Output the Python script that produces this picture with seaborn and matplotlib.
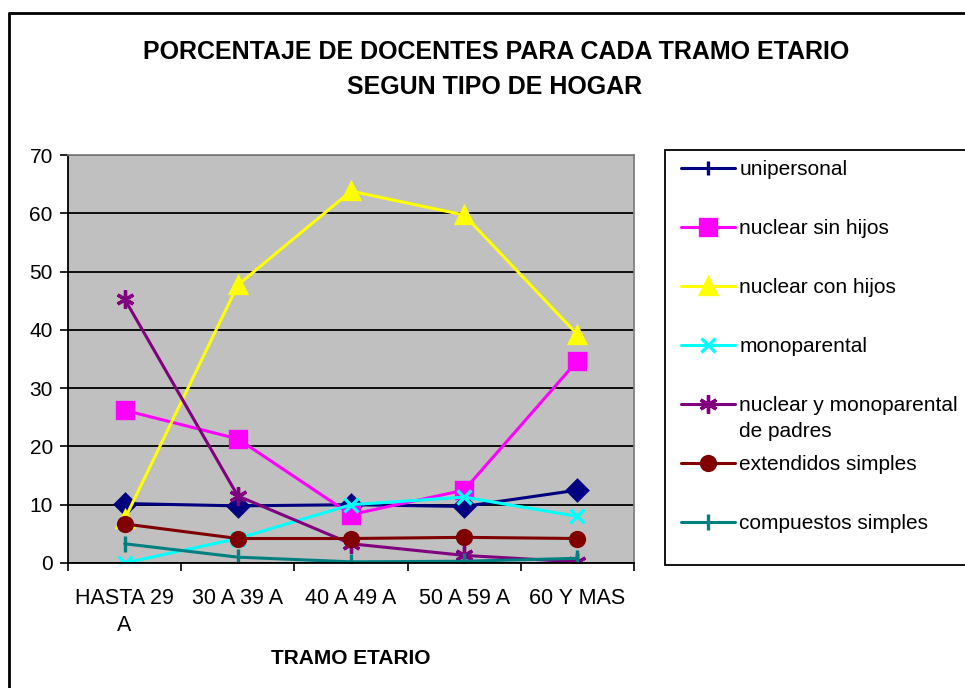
import pandas as pd
import matplotlib.pyplot as plt
import seaborn as sns
from matplotlib.lines import Line2D
from matplotlib.patches import Rectangle

# Data
tramos = ["HASTA 29\nA", "30 A 39 A", "40 A 49 A", "50 A 59 A", "60 Y MAS"]
unipersonal = [10.2, 9.8, 10.0, 9.7, 12.5]
nuclear_sin_hijos = [26.2, 21.3, 8.3, 12.5, 34.7]
nuclear_con_hijos = [7.5, 47.7, 63.8, 59.7, 39.2]
monoparental = [0.0, 4.2, 10.0, 11.3, 8.0]
nuclear_mono_padres = [45.3, 11.5, 3.3, 1.3, 0.2]
extendidos_simples = [6.7, 4.2, 4.2, 4.4, 4.2]
compuestos_simples = [3.3, 1.0, 0.2, 0.3, 0.8]

series = {
    "unipersonal": unipersonal,
    "nuclear sin hijos": nuclear_sin_hijos,
    "nuclear con hijos": nuclear_con_hijos,
    "monoparental": monoparental,
    "nuclear y monoparental": nuclear_mono_padres,
    "extendidos simples": extendidos_simples,
    "compuestos simples": compuestos_simples,
}
colors = ["#000080", "#FF00FF", "#FFFF00", "#00FFFF", "#800080", "#800000", "#008080"]
markers = ["D", "s", "^", "x", (6, 2, 0), "o", "|"]
legend_markers = ["|", "s", "^", "x", (6, 2, 0), "o", "|"]
msizes = [10, 11, 12, 10, 13, 10, 12]

sns.set_style("white")
plt.rcParams["font.family"] = ["Liberation Sans", "DejaVu Sans"]
plt.rcParams["text.color"] = "black"
plt.rcParams["axes.labelcolor"] = "black"
plt.rcParams["xtick.color"] = "black"
plt.rcParams["ytick.color"] = "black"

fig = plt.figure(figsize=(9.65, 6.88), dpi=100)
ax = fig.add_axes([0.0705, 0.1817, 0.5865, 0.593])
ax.set_facecolor("#C0C0C0")

names = list(series.keys())
for name, c, m, ms in zip(names, colors, markers, msizes):
    d = pd.DataFrame({"tramo": tramos, "valor": series[name]})
    sns.lineplot(data=d, x="tramo", y="valor", color=c, marker=m,
                 linewidth=2.2, markersize=ms, markeredgewidth=2.4,
                 markeredgecolor=c, sort=False, ax=ax)

ax.set_xlim(-0.5, 4.5)
ax.set_ylim(0, 70)
ax.set_yticks(range(0, 71, 10))
ax.yaxis.grid(True, color="black", linewidth=1.3)
ax.set_axisbelow(True)
ax.set_xticks(range(5))
ax.set_xticklabels(tramos, fontsize=15.5, linespacing=1.35)
ax.set_xticks([i - 0.5 for i in range(6)], minor=True)
ax.tick_params(axis="x", which="major", length=0, pad=18)
ax.tick_params(axis="x", which="minor", length=6, width=1.2, color="black", direction="out")
ax.tick_params(axis="y", length=6, width=1.2, color="black", direction="out", labelsize=15, pad=5)
ax.tick_params(bottom=True, left=True)
ax.xaxis.set_tick_params(which="minor", bottom=True)
for s in ["left", "bottom"]:
    ax.spines[s].set_color("black")
    ax.spines[s].set_linewidth(1.3)
for s in ["top", "right"]:
    ax.spines[s].set_color("#808080")
    ax.spines[s].set_linewidth(1.3)

ax.set_xlabel("TRAMO ETARIO", fontsize=15, fontweight="bold", labelpad=10)
ax.set_ylabel("")

fig.text(0.514, 0.924, "PORCENTAJE DE DOCENTES PARA CADA TRAMO ETARIO",
         ha="center", va="center", fontsize=18, fontweight="bold")
fig.text(0.512, 0.873, "SEGUN TIPO DE HOGAR",
         ha="center", va="center", fontsize=18, fontweight="bold")

# outer chart frame (only left/top visible)
fig.add_artist(Line2D([9 / 965, 9 / 965], [0, 1 - 13 / 688], transform=fig.transFigure,
                      color="black", linewidth=2))
fig.add_artist(Line2D([9 / 965, 1], [1 - 13 / 688, 1 - 13 / 688], transform=fig.transFigure,
                      color="black", linewidth=2))

# legend box
fig.add_artist(Rectangle((665 / 965, 1 - 565 / 688), 0.4, 415 / 688, transform=fig.transFigure,
                         facecolor="white", edgecolor="black", linewidth=1.3, zorder=1))

handles = [Line2D([], [], color=c, marker=m, linewidth=2.2, markersize=ms, markeredgewidth=2.4)
           for c, m, ms in zip(colors, legend_markers, msizes)]
leg = fig.legend(handles, names, loc="upper left",
                 bbox_to_anchor=(681 / 965, 1 - 160 / 688),
                 fontsize=15, frameon=False, handlelength=2.6, handletextpad=0.2,
                 labelspacing=1.92, borderpad=0, borderaxespad=0)
leg.set_zorder(5)

# second line of the fifth legend label, placed under the first line
extra = ax.annotate("de padres", xy=(0, 0.5), xycoords=leg.get_texts()[4],
                    xytext=(0, -26), textcoords="offset pixels",
                    fontsize=15, ha="left", va="center", annotation_clip=False)
extra.remove()
extra.set_zorder(10)
fig.add_artist(extra)

fig.savefig("out.png", dpi=100)
